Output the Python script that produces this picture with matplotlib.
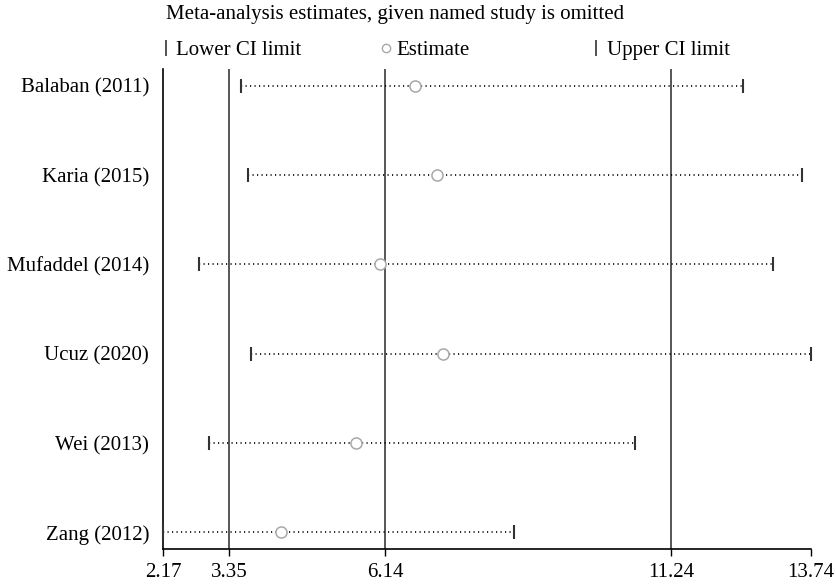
import matplotlib.pyplot as plt
from matplotlib.lines import Line2D

plt.rcParams['font.family'] = ['Liberation Serif', 'DejaVu Serif']

studies = ['Balaban (2011)', 'Karia (2015)', 'Mufaddel (2014)',
           'Ucuz (2020)', 'Wei (2013)', 'Zang (2012)']
estimate = [6.68, 7.07, 6.05, 7.17, 5.62, 4.27]
lower_ci = [3.56, 3.68, 2.81, 3.74, 2.99, 2.17]
upper_ci = [12.53, 13.58, 13.07, 13.74, 10.60, 8.44]

# overall pooled result: lower CI, estimate, upper CI
overall = [3.35, 6.14, 11.24]
xticks = [2.17, 3.35, 6.14, 11.24, 13.74]

fig = plt.figure(figsize=(8.37, 5.84), dpi=100)
ax = fig.add_axes([0.1947, 0.0599, 0.9686 - 0.1947, 0.8813 - 0.0599])

rows = list(range(len(studies), 0, -1))

for v in overall:
    ax.axvline(v, color='#3a3a3a', lw=1.2, zorder=1)

ax.hlines(rows, lower_ci, upper_ci, color='black', lw=1.2,
          linestyles=(0, (0.7, 2.0)), zorder=2)
ax.plot(lower_ci, rows, ls='none', marker='|', ms=10, mew=1.5,
        color='#333333', clip_on=False, zorder=3)
ax.plot(upper_ci, rows, ls='none', marker='|', ms=10, mew=1.5,
        color='#333333', clip_on=False, zorder=3)
ax.plot(estimate, rows, ls='none', marker='o', ms=8, mfc='white',
        mec='#a8a8a8', mew=1.1, zorder=4)

ax.set_xlim(xticks[0], xticks[-1])
ax.set_ylim(0.815, 6.1835)
ax.set_xticks(xticks)
ax.set_xticklabels([f'{t:.2f}' for t in xticks])
ax.set_yticks(rows)
ax.set_yticklabels(studies)
ax.tick_params(axis='x', length=5, width=1, pad=5, labelsize=15)
ax.tick_params(axis='y', length=0, pad=10, labelsize=15)
for s in ['top', 'right']:
    ax.spines[s].set_visible(False)
ax.spines['left'].set_linewidth(1.2)
ax.spines['bottom'].set_linewidth(1.2)

fig.text(0.198, 0.975, 'Meta-analysis estimates, given named study is omitted',
         fontsize=15, va='center', ha='left')

# legend row, one entry at a time to keep Stata-like spacing
entries = [
    (Line2D([], [], ls='none', marker='|', ms=11, mew=1.2, color='#333333'), 'Lower CI limit', 0.192),
    (Line2D([], [], ls='none', marker='o', ms=6, mfc='white', mec='#a8a8a8', mew=1.0), 'Estimate', 0.455),
    (Line2D([], [], ls='none', marker='|', ms=11, mew=1.2, color='#333333'), 'Upper CI limit', 0.706),
]
for handle, label, xpos in entries:
    fig.legend([handle], [label], loc='center left', bbox_to_anchor=(xpos, 0.914),
               frameon=False, fontsize=15, handlelength=0.5, handletextpad=0.25,
               borderpad=0, borderaxespad=0)

fig.savefig('out.png', dpi=100)
